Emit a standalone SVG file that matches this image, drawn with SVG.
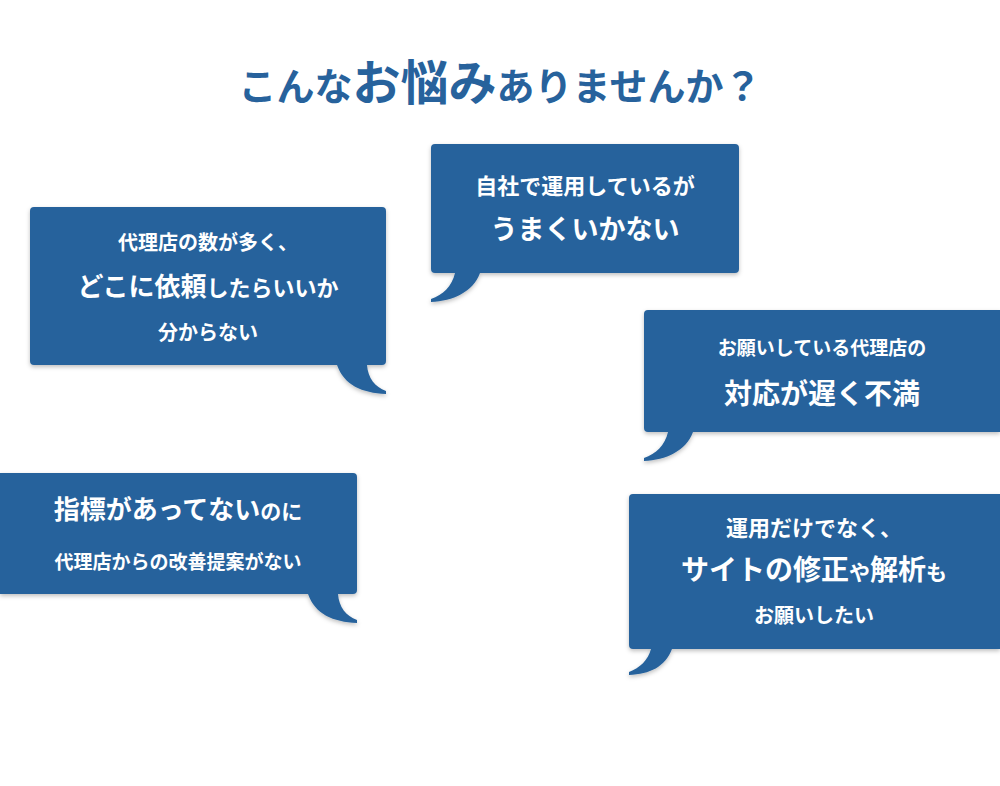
<svg xmlns="http://www.w3.org/2000/svg" width="1000" height="786" viewBox="0 0 1000 786">
<defs>
<filter id="sh" x="-10%" y="-10%" width="130%" height="130%"><feDropShadow dx="0" dy="2" stdDeviation="2" flood-color="#000" flood-opacity="0.25"/></filter>
<style>
.b{fill:#27629c;filter:url(#sh)}
text{font-family:"Noto Sans CJK JP","Noto Sans",sans-serif;font-weight:bold;fill:#fff;text-anchor:middle}
.t{fill:#27629c}
</style>
</defs>
<rect width="1000" height="786" fill="#fff"/>
<text class="t" x="500" y="100" font-size="38">こんな<tspan font-size="48">お悩み</tspan>ありませんか？</text>
<g id="n1">
<path class="b" d="M34,207 H382 a4,4 0 0 1 4,4 V361 a4,4 0 0 1 -4,4 H367 C368,378 375,387 386,391 L386,394 C362,393 344,385 337,365 H34 a4,4 0 0 1 -4,-4 V211 a4,4 0 0 1 4,-4Z"/>
<text x="208" y="250" font-size="20">代理店の数が多く、</text>
<text x="208" y="296" font-size="26">どこに依頼<tspan font-size="22">したらいいか</tspan></text>
<text x="208" y="340" font-size="20">分からない</text>
</g>
<g id="n2">
<path class="b" d="M435,144 H735 a4,4 0 0 1 4,4 V269 a4,4 0 0 1 -4,4 H480 C473,292 453,301 431,302 L431,299 C443,295 452,286 455,273 H435 a4,4 0 0 1 -4,-4 V148 a4,4 0 0 1 4,-4Z"/>
<text x="585" y="194" font-size="22">自社で運用しているが</text>
<text x="585" y="239" font-size="27">うまくいかない</text>
</g>
<g id="n3">
<path class="b" d="M648,310 H1000 V432 H693 C686,451 666,460 644,461 L644,458 C656,454 665,445 668,432 H648 a4,4 0 0 1 -4,-4 V314 a4,4 0 0 1 4,-4Z"/>
<text x="822" y="355" font-size="19">お願いしている代理店の</text>
<text x="822" y="404" font-size="28">対応が遅く不満</text>
</g>
<g id="n4">
<path class="b" d="M0,473 H353 a4,4 0 0 1 4,4 V590 a4,4 0 0 1 -4,4 H338 C339,607 346,616 357,620 L357,623 C333,622 315,614 308,594 H0Z"/>
<text x="178" y="519" font-size="26">指標があってない<tspan font-size="21">のに</tspan></text>
<text x="178" y="569" font-size="19">代理店からの改善提案がない</text>
</g>
<g id="n5">
<path class="b" d="M633,494 H1000 V649 H672 C665,667 650,674 629,675 L629,672 C640,668 648,660 651,649 H633 a4,4 0 0 1 -4,-4 V498 a4,4 0 0 1 4,-4Z"/>
<text x="814" y="536" font-size="22">運用だけでなく、</text>
<text x="814" y="580" font-size="28">サイトの修正<tspan font-size="21">や</tspan>解析<tspan font-size="21">も</tspan></text>
<text x="814" y="623" font-size="20">お願いしたい</text>
</g>
<g id="connectors"/>
</svg>
